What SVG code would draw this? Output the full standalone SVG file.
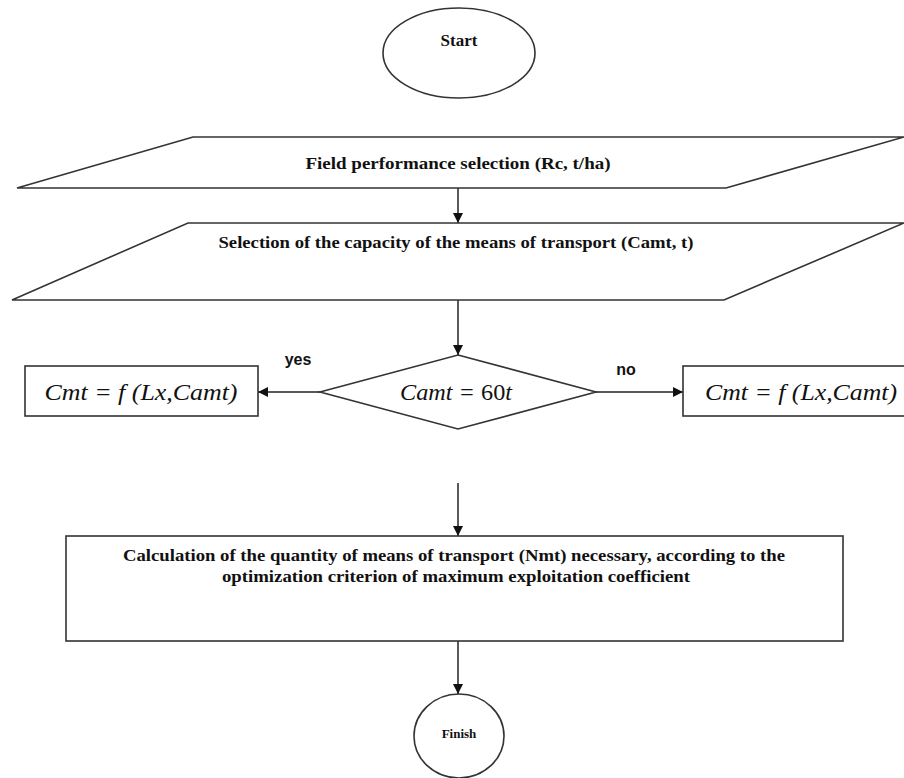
<svg xmlns="http://www.w3.org/2000/svg" width="904" height="778" viewBox="0 0 904 778">
<style>
.sh{fill:#fff;stroke:#333;stroke-width:1.6}
.ln{stroke:#222;stroke-width:1.5;fill:none}
.tb{font-family:"Liberation Serif","Times New Roman",serif;font-weight:bold;fill:#111;text-anchor:middle}
.ti{font-family:"Liberation Serif","Times New Roman",serif;font-style:italic;fill:#111;text-anchor:middle;font-size:23px}
.ts{font-family:"Liberation Sans",Arial,sans-serif;font-weight:bold;fill:#111;font-size:16px;text-anchor:middle}
</style>
<defs>
<marker id="ah" markerWidth="10" markerHeight="10" viewBox="0 0 10 10" refX="10" refY="5" orient="auto" markerUnits="userSpaceOnUse">
<path d="M0,0 L10,5 L0,10 Z" fill="#111"/>
</marker>
</defs>
<g id="connectors">
<line class="ln" x1="458" y1="188" x2="458" y2="223" marker-end="url(#ah)"/>
<line class="ln" x1="458" y1="300" x2="458" y2="355" marker-end="url(#ah)"/>
<line class="ln" x1="320" y1="392" x2="258" y2="392" marker-end="url(#ah)"/>
<line class="ln" x1="596" y1="392" x2="683" y2="392" marker-end="url(#ah)"/>
<line class="ln" x1="458" y1="483" x2="458" y2="536" marker-end="url(#ah)"/>
<line class="ln" x1="458" y1="641" x2="458" y2="694" marker-end="url(#ah)"/>
<text class="ts" x="298" y="365">yes</text>
<text class="ts" x="626" y="375">no</text>
</g>
<g id="start">
<ellipse class="sh" cx="459" cy="53" rx="76" ry="45"/>
<text class="tb" x="459" y="46" font-size="17">Start</text>
</g>
<g id="field">
<polygon class="sh" points="193,137 904,137 726,188 17,188"/>
<text class="tb" x="458" y="169" font-size="16" textLength="305" lengthAdjust="spacingAndGlyphs">Field performance selection (Rc, t/ha)</text>
</g>
<g id="capacity">
<polygon class="sh" points="188,223 904,223 724,300 12,300"/>
<text class="tb" x="456" y="248" font-size="16" textLength="475" lengthAdjust="spacingAndGlyphs">Selection of the capacity of the means of transport (Camt, t)</text>
</g>
<g id="decision">
<polygon class="sh" points="458,355 596,392 458,429 320,392"/>
<text class="ti" x="456" y="400" textLength="112" lengthAdjust="spacingAndGlyphs">Camt = <tspan font-style="normal">60</tspan>t</text>
</g>
<g id="yesbox">
<rect class="sh" x="25" y="366" width="233" height="50"/>
<text class="ti" x="141" y="400" textLength="193" lengthAdjust="spacingAndGlyphs">Cmt = f (Lx,Camt)</text>
</g>
<g id="nobox">
<rect class="sh" x="683" y="366" width="222" height="50"/>
<text class="ti" x="801" y="400" textLength="192" lengthAdjust="spacingAndGlyphs">Cmt = f (Lx,Camt)</text>
</g>
<g id="calc">
<rect class="sh" x="66" y="536" width="777" height="105"/>
<text class="tb" x="454" y="561" font-size="17" textLength="662" lengthAdjust="spacingAndGlyphs">Calculation of the quantity of means of transport (Nmt) necessary, according to the</text>
<text class="tb" x="456" y="582" font-size="17" textLength="468" lengthAdjust="spacingAndGlyphs">optimization criterion of maximum exploitation coefficient</text>
</g>
<g id="finish">
<ellipse class="sh" cx="459" cy="736" rx="45" ry="42"/>
<text class="tb" x="459" y="738" font-size="13">Finish</text>
</g>
</svg>
